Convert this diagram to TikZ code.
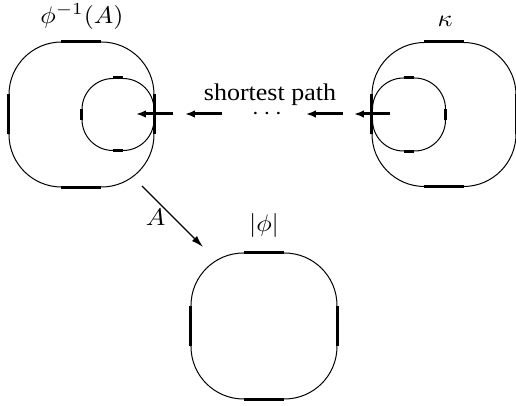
\documentclass[tikz,border=0pt]{standalone}
\usepackage[no-math]{fontspec}
\setmainfont{Liberation Serif}
\usepackage{graphicx}
\usetikzlibrary{arrows.meta}
\newcommand{\wide}[1]{\scalebox{1.3}[1.2]{#1}}
\begin{document}
\begin{tikzpicture}[x=0.5pt,y=-0.5pt,
  bigsq/.style={draw, line width=0.5pt, rounded corners=26.25pt, minimum size=72.5pt, inner sep=0pt},
  smallsq/.style={draw, line width=0.5pt, rounded corners=15.5pt, minimum size=36pt, inner sep=0pt},
  thickseg/.style={line width=1.5pt, line cap=butt},
  patharrow/.style={line width=1.5pt, -{Latex[length=5pt,width=3.8pt]}},
  maparrow/.style={line width=0.6pt, -{Latex[length=6pt,width=3.6pt]}},
  lbl/.style={inner sep=0pt, anchor=base}]
\useasboundingbox (0,0) rectangle (516,406);
% shapes
\node[bigsq] (L) at (81.5,114.5) {};
\node[smallsq] (Ls) at (118,114.5) {};
\node[bigsq, minimum size=72pt] (R) at (444,114.5) {};
\node[smallsq, minimum size=36.5pt] (Rs) at (409,114.5) {};
\node[bigsq, minimum size=73pt] (B) at (264,326) {};
% thick straight parts
\foreach \n in {L,R,B}{
  \draw[thickseg] ([xshift=-10pt]\n.north) -- ([xshift=10pt]\n.north);
  \draw[thickseg] ([xshift=-10pt]\n.south) -- ([xshift=10pt]\n.south);
  \draw[thickseg] ([yshift=-10pt]\n.west) -- ([yshift=10pt]\n.west);
  \draw[thickseg] ([yshift=-10pt]\n.east) -- ([yshift=10pt]\n.east);
}
\foreach \n in {Ls,Rs}{
  \draw[thickseg] ([xshift=-2.5pt]\n.north) -- ([xshift=2.5pt]\n.north);
  \draw[thickseg] ([xshift=-2.5pt]\n.south) -- ([xshift=2.5pt]\n.south);
  \draw[thickseg] ([yshift=-2.7pt]\n.west) -- ([yshift=2.7pt]\n.west);
  \draw[thickseg] ([yshift=-2.7pt]\n.east) -- ([yshift=2.7pt]\n.east);
}
% shortest path arrows
\coordinate (a1s) at (173,114); \coordinate (a1e) at (136,114);
\coordinate (a2s) at (222,114); \coordinate (a2e) at (185,114);
\coordinate (a3s) at (343,114); \coordinate (a3e) at (306,114);
\coordinate (a4s) at (390,114); \coordinate (a4e) at (354,114);
\draw[patharrow] (a1s) -- (a1e);
\draw[patharrow] (a2s) -- (a2e);
\draw[patharrow] (a3s) -- (a3e);
\draw[patharrow] (a4s) -- (a4e);
\node[inner sep=0pt] (dots) at (267,114.5) {\wide{$\cdots$}};
\node[lbl] (sp) at (270,101) {\wide{shortest path}};
% labels
\node[lbl] (lL) at (82,23.5) {\wide{$\phi^{-1}(A)$}};
\node[lbl] (lR) at (445,27) {\wide{$\kappa$}};
\node[lbl] (lB) at (264,232) {\wide{$|\phi|$}};
% map arrow
\coordinate (ms) at (142,186);
\coordinate (me) at (203,247);
\draw[maparrow] (ms) -- (me);
\node[lbl] (lA) at (155.5,226) {\wide{$A$}};
\end{tikzpicture}
\end{document}
